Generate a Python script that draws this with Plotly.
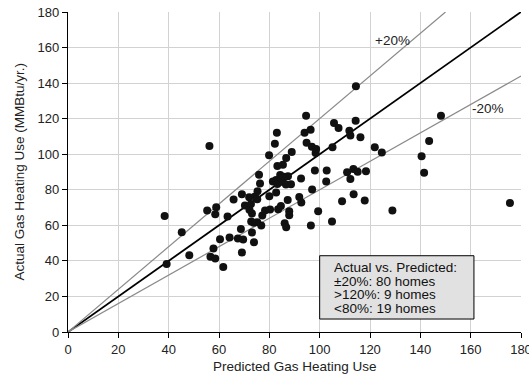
import plotly.graph_objects as go

# Data
predicted = [38.4, 39.2, 45.2, 48.2, 56.2, 55.3, 58.9, 58.5, 57.8, 56.6, 58.5, 60.4, 61.7, 63.4, 64.2,
             65.8, 67.5, 68.7, 69.1, 69.6, 69.1, 70.3, 72.0, 72.1, 72.7, 73.1, 72.8, 73.1, 73.9, 74.3,
             75.2, 75.3, 75.2, 75.9, 76.3, 76.8, 77.2, 78.3, 79.9, 80.0, 80.3, 81.4, 82.2, 83.0, 82.7,
             83.2, 82.7, 83.2, 83.5, 84.3, 84.6, 85.4, 85.4, 86.1, 86.7, 86.7, 87.3, 87.4, 86.6, 87.9,
             87.9, 88.6, 88.9, 91.9, 92.6, 92.7, 94.0, 94.6, 94.8, 96.4, 96.5, 97.0, 96.9, 98.1, 98.4,
             98.6, 99.4, 102.8, 102.6, 104.9, 105.1, 105.7, 107.5, 108.9, 110.9, 111.8, 112.2, 112.2, 113.4,
             113.5, 114.4, 114.3, 115.1, 116.2, 117.9, 118.4, 121.9, 124.7, 128.9, 140.5, 141.5, 143.5,
             148.2, 175.6, 85.7, 73.8]
actual = [65.3, 38.2, 56.1, 43.2, 104.6, 68.3, 70.2, 66.2, 47.0, 42.3, 41.4, 52.2, 36.5, 64.9, 53.1,
          74.5, 52.6, 58.0, 77.5, 52.1, 44.7, 71.1, 75.8, 68.7, 72.0, 66.6, 62.1, 56.0, 50.5, 76.2,
          74.7, 79.2, 61.8, 88.5, 83.5, 59.9, 65.5, 68.3, 99.4, 76.3, 68.9, 84.6, 105.9, 112.1, 78.4,
          93.4, 85.5, 83.3, 69.0, 88.3, 70.9, 94.1, 84.4, 61.2, 97.9, 58.9, 74.3, 87.6, 82.9, 67.9,
          65.7, 83.1, 101.2, 76.0, 86.3, 72.8, 112.1, 121.6, 106.5, 113.8, 59.9, 80.1, 104.2, 90.9, 100.7,
          102.9, 67.9, 90.9, 84.6, 62.1, 103.9, 117.5, 114.7, 73.5, 89.8, 113.2, 110.6, 86.1, 91.7,
          77.5, 138.3, 118.8, 90.2, 109.5, 73.9, 90.4, 103.9, 100.9, 68.3, 98.8, 89.6, 107.4,
          121.6, 72.6, 87.3, 61.5]

axis_max = 180
ratios = [1.0, 1.2, 0.8]
ratio_labels = ["", "+20%", "-20%"]
tick_vals = list(range(0, 181, 20))
summary_lines = ["Actual vs. Predicted:", "\u00b120%: 80 homes", ">120%: 9 homes", "<80%: 19 homes"]
x_title = "Predicted Gas Heating Use"
y_title = "Actual Gas Heating Use (MMBtu/yr.)"

FONT = "Liberation Sans, Arial, sans-serif"
FS = 13
FS_TXT = 13.5
fig = go.Figure()

# reference lines
for r in ratios:
    x_end = min(axis_max, axis_max / r)
    fig.add_trace(go.Scatter(
        x=[0, x_end], y=[0, x_end * r], mode="lines",
        line=dict(color="#000000" if r == 1.0 else "#8a8a8a", width=1.8 if r == 1.0 else 1.2),
        hoverinfo="skip", showlegend=False))

fig.add_trace(go.Scatter(
    x=predicted, y=actual, mode="markers",
    marker=dict(color="#111111", size=8, line=dict(width=0)),
    showlegend=False))

# line labels
fig.add_annotation(x=128.9, y=164, text=ratio_labels[1], showarrow=False,
                   font=dict(family=FONT, size=FS_TXT, color="#222"))
fig.add_annotation(x=166.9, y=125.7, text=ratio_labels[2], showarrow=False,
                   font=dict(family=FONT, size=FS_TXT, color="#222"))

# summary box
fig.add_shape(type="rect", x0=100, x1=161.3, y0=7.3, y1=42.9,
              fillcolor="#e1e1e1", line=dict(color="#000000", width=1), layer="above")
line_y = [35.9, 28.1, 20.6, 12.9]
for txt, yy in zip(summary_lines, line_y):
    fig.add_annotation(x=105.1, y=yy, text=txt, showarrow=False, xanchor="left",
                       yanchor="middle", height=13.5, borderpad=0,
                       font=dict(family=FONT, size=FS_TXT, color="#111"))

# axis titles
fig.add_annotation(xref="paper", yref="paper", x=0.5, y=-0.108, text=x_title,
                   showarrow=False, xanchor="center", yanchor="middle",
                   font=dict(family=FONT, size=FS_TXT, color="#222"))
fig.add_annotation(xref="paper", yref="paper", x=-0.109, y=0.5, text=y_title,
                   textangle=-90, showarrow=False, xanchor="center", yanchor="middle",
                   font=dict(family=FONT, size=FS_TXT, color="#222"))

axis_common = dict(range=[0, axis_max], tickvals=tick_vals, showgrid=True,
                   gridcolor="#d2d2d2", gridwidth=1, zeroline=False, showline=True,
                   linecolor="#000000", linewidth=1.2, ticks="outside", ticklen=5,
                   tickcolor="#000000", automargin=False, ticklabeloverflow="allow",
                   tickfont=dict(family=FONT, size=FS, color="#222"))

fig.update_layout(
    width=529, height=376,
    margin=dict(l=67.5, r=8, t=12, b=44),
    paper_bgcolor="white", plot_bgcolor="white",
    xaxis=dict(**axis_common),
    yaxis=dict(**axis_common),
)

fig.write_html("out.html", config={"displayModeBar": False},
               post_script="document.body.style.margin='0';document.body.style.overflow='hidden';")
